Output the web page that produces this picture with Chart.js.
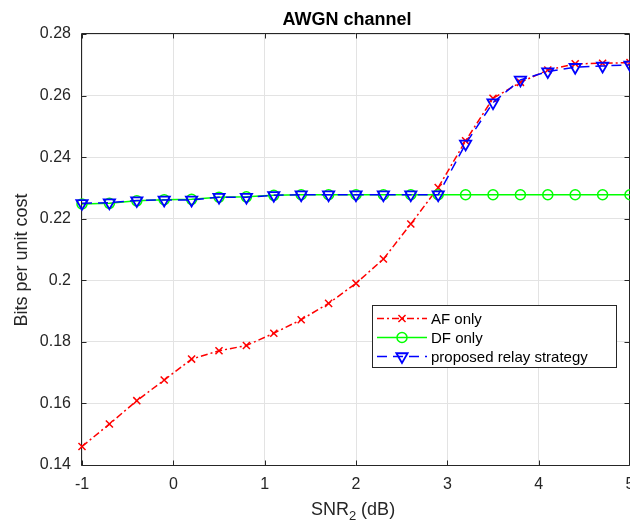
<!DOCTYPE html>
<html><head><meta charset="utf-8">
<script src="https://cdn.jsdelivr.net/npm/chart.js@4/dist/chart.umd.min.js"></script>
<style>
html,body{margin:0;padding:0;overflow:hidden;background:#fff;width:630px;height:523px}
#wrap{position:absolute;left:0;top:0;width:700px;height:523px}
</style>
</head><body><div id="wrap"><canvas id="c" width="700" height="523"></canvas></div>
<script>
// ---- data ----
const snr = [-1, -0.7, -0.4, -0.1, 0.2, 0.5, 0.8, 1.1, 1.4, 1.7, 2.0, 2.3, 2.6, 2.9, 3.2, 3.5, 3.8, 4.1, 4.4, 4.7, 5.0];
const afOnly = [0.1460, 0.1533, 0.1609, 0.1676, 0.1744, 0.1771, 0.1788, 0.1828, 0.1872, 0.1925, 0.1990, 0.2069, 0.2183, 0.2301, 0.2453, 0.2591, 0.2643, 0.2683, 0.2703, 0.2705, 0.2707];
const dfOnly = [0.2248, 0.2250, 0.2258, 0.2262, 0.2263, 0.2270, 0.2271, 0.2276, 0.2278, 0.2278, 0.2278, 0.2278, 0.2278, 0.2278, 0.2278, 0.2278, 0.2278, 0.2278, 0.2278, 0.2278, 0.2278];
const proposed = [0.2250, 0.2252, 0.2259, 0.2261, 0.2261, 0.2270, 0.2270, 0.2276, 0.2278, 0.2278, 0.2278, 0.2278, 0.2278, 0.2278, 0.2443, 0.2577, 0.2651, 0.2678, 0.2692, 0.2696, 0.2700];
const xTicks = [-1, 0, 1, 2, 3, 4, 5];
const yTicks = [0.14, 0.16, 0.18, 0.2, 0.22, 0.24, 0.26, 0.28];
const seriesLabels = ['AF only', 'DF only', 'proposed relay strategy'];
const titleText = 'AWGN channel';
const xLabelParts = ['SNR', '2', ' (dB)'];
const yLabelText = 'Bits per unit cost';

const FONT = '"Liberation Sans", Arial, Helvetica, sans-serif';
const AXC = '#262626';

const pts = arr => snr.map((x, i) => ({x: x, y: arr[i]}));

const decor = {
  id: 'decor',
  beforeDatasetsDraw(chart) {
    const ctx = chart.ctx, a = chart.chartArea;
    const xs = chart.scales.x, ys = chart.scales.y;
    ctx.save();
    ctx.strokeStyle = AXC; ctx.lineWidth = 1;
    const L = Math.round(a.left) - 0.5, R = Math.round(a.right) - 0.5, T = Math.round(a.top) - 0.5, B = Math.round(a.bottom) + 0.5;
    ctx.beginPath();
    ctx.moveTo(L, T); ctx.lineTo(R, T); ctx.lineTo(R, B); ctx.lineTo(L, B); ctx.closePath();
    const tl = 5;
    xTicks.forEach(v => {
      const px = Math.round(xs.getPixelForValue(v)) + 0.5;
      ctx.moveTo(px, B); ctx.lineTo(px, B - tl);
      ctx.moveTo(px, T); ctx.lineTo(px, T + tl);
    });
    yTicks.forEach(v => {
      const py = Math.round(ys.getPixelForValue(v)) + 0.5;
      ctx.moveTo(L, py); ctx.lineTo(L + tl, py);
      ctx.moveTo(R, py); ctx.lineTo(R - tl, py);
    });
    ctx.stroke();
    ctx.restore();
  },
  afterDraw(chart) {
    const ctx = chart.ctx;
    ctx.save();
    ctx.fillStyle = '#000';
    // title
    ctx.font = 'bold 18px ' + FONT;
    ctx.textAlign = 'center'; ctx.textBaseline = 'alphabetic';
    ctx.fillText(titleText, 347, 25);
    // x label with subscript
    ctx.fillStyle = AXC;
    ctx.font = '18px ' + FONT;
    const w0 = ctx.measureText(xLabelParts[0]).width;
    const w2 = ctx.measureText(xLabelParts[2]).width;
    ctx.font = '13px ' + FONT;
    const w1 = ctx.measureText(xLabelParts[1]).width;
    let sx = 353 - (w0 + w1 + w2) / 2;
    ctx.textAlign = 'left';
    ctx.font = '18px ' + FONT;
    ctx.fillText(xLabelParts[0], sx, 515);
    ctx.font = '13px ' + FONT;
    ctx.fillText(xLabelParts[1], sx + w0, 520);
    ctx.font = '18px ' + FONT;
    ctx.fillText(xLabelParts[2], sx + w0 + w1, 515);
    // y label
    ctx.save();
    ctx.translate(22, 260);
    ctx.rotate(-Math.PI / 2);
    ctx.textAlign = 'center'; ctx.textBaseline = 'middle';
    ctx.font = '18px ' + FONT;
    ctx.fillText(yLabelText, 0, 0);
    ctx.restore();
    // legend
    const bx = 372.5, by = 305.5, bw = 244, bh = 62;
    ctx.fillStyle = '#fff';
    ctx.fillRect(bx, by, bw, bh);
    ctx.strokeStyle = AXC; ctx.lineWidth = 1;
    ctx.strokeRect(bx, by, bw, bh);
    const rows = [318.5, 337.5, 356.5];
    chart.data.datasets.forEach((ds, i) => {
      const y = rows[i];
      ctx.save();
      ctx.strokeStyle = ds.borderColor; ctx.lineWidth = ds.borderWidth;
      ctx.setLineDash(ds.borderDash || []);
      ctx.beginPath(); ctx.moveTo(377, y); ctx.lineTo(427, y); ctx.stroke();
      ctx.setLineDash([]);
      ctx.fillStyle = 'rgba(0,0,0,0)';
      ctx.lineWidth = ds.pointBorderWidth;
      Chart.helpers.drawPoint(ctx, {pointStyle: ds.pointStyle, radius: ds.pointRadius, rotation: ds.pointRotation || 0, borderWidth: ds.pointBorderWidth}, 402, y);
      ctx.restore();
      ctx.fillStyle = '#000';
      ctx.font = '15px ' + FONT;
      ctx.textAlign = 'left'; ctx.textBaseline = 'middle';
      ctx.fillText(ds.label, 431, y + 1);
    });
    ctx.restore();
  }
};

new Chart(document.getElementById('c'), {
  type: 'line',
  data: {
    datasets: [
      {label: seriesLabels[0], data: pts(afOnly), borderColor: '#ff0000', borderWidth: 1.5, borderDash: [7, 3, 2, 3],
       pointStyle: 'crossRot', pointRadius: 5, pointBorderWidth: 1.5, pointBorderColor: '#ff0000', pointBackgroundColor: 'rgba(0,0,0,0)', order: 2, clip: false, fill: false, tension: 0},
      {label: seriesLabels[1], data: pts(dfOnly), borderColor: '#00ff00', borderWidth: 1.5,
       pointStyle: 'circle', pointRadius: 5, pointBorderWidth: 1.5, pointBorderColor: '#00ff00', pointBackgroundColor: 'rgba(0,0,0,0)', order: 1, clip: false, fill: false, tension: 0},
      {label: seriesLabels[2], data: pts(proposed), borderColor: '#0000ff', borderWidth: 1.5, borderDash: [10, 6],
       pointStyle: 'triangle', pointRotation: 180, pointRadius: 6.5, pointBorderWidth: 1.8, pointBorderColor: '#0000ff', pointBackgroundColor: 'rgba(0,0,0,0)', order: 0, clip: false, fill: false, tension: 0}
    ]
  },
  options: {
    responsive: false, animation: false, devicePixelRatio: 1,
    layout: {padding: {left: 0, top: 34, right: 70, bottom: 0}},
    plugins: {legend: {display: false}, title: {display: false}, tooltip: {enabled: false}},
    scales: {
      x: {
        type: 'linear', min: -1, max: 5,
        afterBuildTicks: s => { s.ticks = xTicks.map(v => ({value: v})); },
        afterFit: s => { s.height = 58; },
        ticks: {font: {family: FONT, size: 16}, color: AXC, padding: 10, maxRotation: 0, autoSkip: false, callback: v => String(v)},
        grid: {color: '#e3e3e3', drawTicks: false},
        border: {display: false}
      },
      y: {
        type: 'linear', min: 0.14, max: 0.28,
        afterBuildTicks: s => { s.ticks = yTicks.map(v => ({value: v})); },
        afterFit: s => { s.width = 82; },
        ticks: {font: {family: FONT, size: 16}, color: AXC, padding: 11, autoSkip: false, callback: v => String(+(+v).toFixed(2))},
        grid: {color: '#e3e3e3', drawTicks: false},
        border: {display: false}
      }
    }
  },
  plugins: [decor]
});
</script>
</body></html>
